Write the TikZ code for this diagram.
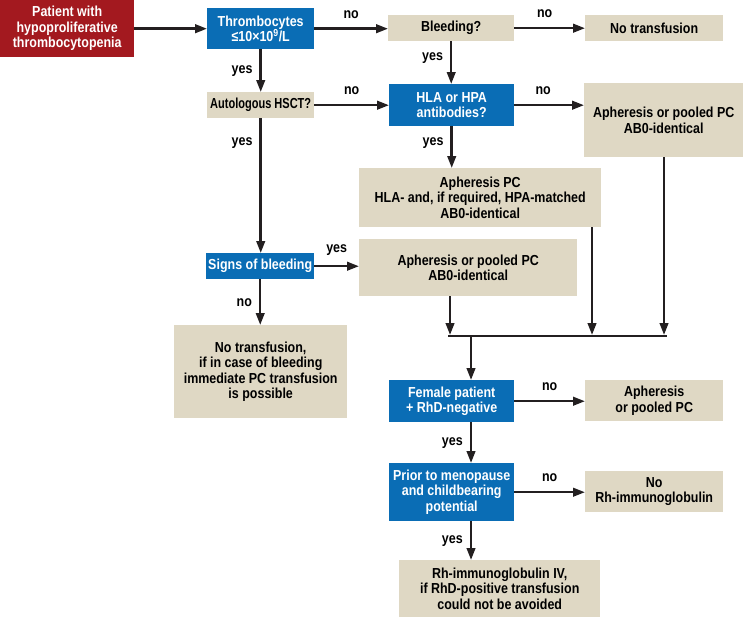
\documentclass[tikz,border=0pt]{standalone}
\usepackage{fontspec}
\setmainfont{Liberation Sans Bold}[FakeStretch=0.86]
\newfontfamily\narrowfont{Liberation Sans Bold}[FakeStretch=0.76]
\usetikzlibrary{arrows.meta}

\definecolor{flowred}{HTML}{A3191F}
\definecolor{flowblue}{HTML}{0A6DB5}
\definecolor{flowsand}{HTML}{DFD8C4}
\definecolor{flowline}{HTML}{231F20}

\begin{document}
\begin{tikzpicture}[x=1pt,y=-1pt]
  \tikzset{
    flow box/.style={
      fill=#1,
      anchor=north west,
      align=center,
      inner sep=0pt,
      font=\fontsize{14.5}{15.5}\selectfont,
    },
    flow box/.default=flowsand,
    decision/.style={flow box=flowblue, text=white},
    answer/.style={font=\fontsize{14.5}{15.5}\selectfont, inner sep=1pt},
    flow arrow/.style={
      draw=flowline,
      line width=2.5pt,
      -{Triangle[length=12pt,width=8.5pt]},
    },
  }
  \useasboundingbox[fill=white] (0,0) rectangle (743,618);

  % first row
  \node[flow box=flowred, text=white, minimum width=134pt, minimum height=57pt]
    (patient) at (0,0) {Patient with\\hypoproliferative\\thrombocytopenia};
  \node[decision, minimum width=107pt, minimum height=41pt]
    (thromb) at (207,8) {Thrombocytes\\≤10×10\textsuperscript{9}/L};
  \node[flow box, minimum width=126pt, minimum height=26pt]
    (bleed) at (388,15) {Bleeding?};
  \node[flow box, minimum width=138pt, minimum height=26pt]
    (notrans) at (585,15) {No transfusion};

  % second row
  \node[flow box, minimum width=107pt, minimum height=26pt,
        font=\fontsize{14.5}{15.5}\narrowfont]
    (auto) at (207,92) {Autologous HSCT?};
  \node[decision, minimum width=125pt, minimum height=42pt]
    (hla) at (389,84) {HLA or HPA\\antibodies?};
  \node[flow box, minimum width=159pt, minimum height=74pt]
    (aphtop) at (584,83) {Apheresis or pooled PC\\AB0-identical};

  % middle part
  \node[flow box, minimum width=242pt, minimum height=59pt]
    (aphhla) at (359,168) {Apheresis PC\\HLA- and, if required, HPA-matched\\AB0-identical};
  \node[decision, minimum width=108pt, minimum height=26pt]
    (signs) at (206,253) {Signs of bleeding};
  \node[flow box, minimum width=218pt, minimum height=57pt]
    (aphmid) at (359,239) {Apheresis or pooled PC\\AB0-identical};
  \node[flow box, minimum width=173pt, minimum height=93pt]
    (notransbig) at (174,325) {No transfusion,\\if in case of bleeding\\immediate PC transfusion\\is possible};

  % lower part
  \node[decision, minimum width=125pt, minimum height=42pt]
    (female) at (389,380) {Female patient\\+ RhD-negative};
  \node[flow box, minimum width=138pt, minimum height=41pt]
    (aphbot) at (585,380) {Apheresis\\or pooled PC};
  \node[decision, minimum width=125pt, minimum height=58pt]
    (prior) at (389,463) {Prior to menopause\\and childbearing\\potential};
  \node[flow box, minimum width=138pt, minimum height=41pt]
    (norh) at (585,471) {No\\Rh-immunoglobulin};
  \node[flow box, minimum width=201pt, minimum height=57pt]
    (rhiv) at (399,560) {Rh-immunoglobulin IV,\\if RhD-positive transfusion\\could not be avoided};

  \coordinate (joinL) at (448,336);
  \coordinate (joinR) at (667,336);
  \coordinate (dropA) at (450,335);
  \coordinate (dropB) at (592,335);
  \coordinate (dropC) at (664,335);
  \coordinate (feed) at (471,336);

  \draw[flow arrow] (patient.east) -- (thromb.west);
  \draw[flow arrow] (thromb.east) -- node[answer, above=8pt] {no} (thromb.east -| bleed.west);
  \draw[flow arrow] (bleed.east) -- node[answer, above=8pt, xshift=-5pt] {no} (bleed.east -| notrans.west);
  \draw[flow arrow] (thromb.south) -- node[answer, left=6pt] {yes} (auto.north);
  \draw[flow arrow] (bleed.south) -- node[answer, left=6pt, pos=0.4] {yes} (bleed.south |- hla.north);
  \draw[flow arrow] (auto.east) -- node[answer, above=8pt] {no} (hla.west);
  \draw[flow arrow] (hla.east) -- node[answer, above=8pt, xshift=-6pt] {no} (hla.east -| aphtop.west);
  \draw[flow arrow] (hla.south) -- node[answer, left=6pt, pos=0.4] {yes} (hla.south |- aphhla.north);
  \draw[flow arrow] (auto.south) -- node[answer, left=6pt, pos=0.18] {yes} (auto.south |- signs.north);
  \draw[flow arrow] (signs.east) -- node[answer, above=8pt] {yes} (signs.east -| aphmid.west);
  \draw[flow arrow] (signs.south) -- node[answer, left=6pt] {no} (signs.south |- notransbig.north);

  % merging the three PC branches
  \draw[flow arrow] (aphmid.south -| dropA) -- (dropA);
  \draw[flow arrow] (aphhla.south -| dropB) -- (dropB);
  \draw[flow arrow] (aphtop.south -| dropC) -- (dropC);
  \draw[draw=flowline, line width=2.5pt] (joinL) -- (joinR);
  \draw[flow arrow] (feed) -- (feed |- female.north);

  \draw[flow arrow] (female.east) -- node[answer, above=8pt] {no} (female.east -| aphbot.west);
  \draw[flow arrow] (female.south -| feed) -- node[answer, left=6pt] {yes} (prior.north -| feed);
  \draw[flow arrow] (prior.east) -- node[answer, above=8pt] {no} (prior.east -| norh.west);
  \draw[flow arrow] (prior.south -| feed) -- node[answer, left=6pt] {yes} (rhiv.north -| feed);
\end{tikzpicture}
\end{document}
